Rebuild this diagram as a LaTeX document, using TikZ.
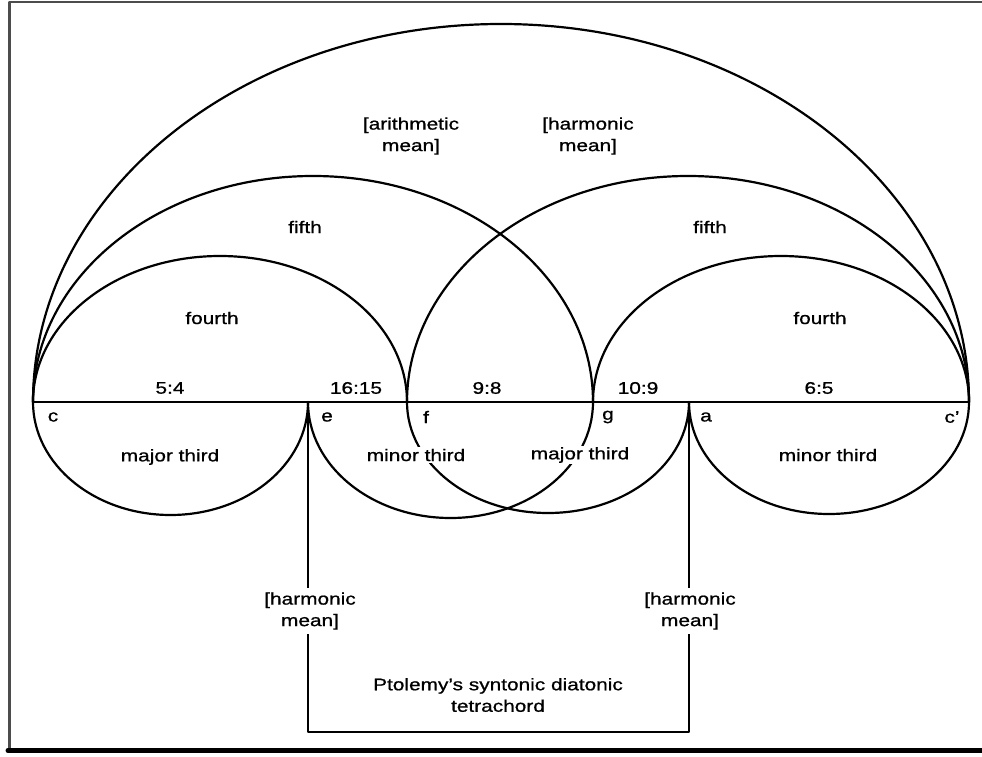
\documentclass[tikz,border=0pt]{standalone}
\usepackage{fontspec}
\setmainfont[FakeStretch=1.24,FakeBold=0.9]{Liberation Sans}
\begin{document}
\begin{tikzpicture}[x=1pt,y=1pt,line cap=round,line join=round,
  curve/.style={line width=2.2pt},
  frameline/.style={draw=black!70,line width=2.5pt},
  lbl/.style={fill=white,inner sep=1.5pt,align=center,font=\fontsize{16.8}{21.5}\selectfont},
  gaplbl/.style={lbl,inner sep=4pt}]
\useasboundingbox (0,0) rectangle (982,756);
% frame
\draw[frameline] (9.5,5) -- (9.5,754) -- (982,754);
\draw[line width=5pt] (8,5.5) -- (982,5.5);
% points on the string
\coordinate (c)  at (33,354);
\coordinate (e)  at (308,354);
\coordinate (f)  at (407,354);
\coordinate (g)  at (593,354);
\coordinate (a)  at (689,354);
\coordinate (cp) at (969,354);
\coordinate (bot) at (500,24);
% baseline
\draw[line width=2.5pt] (c) -- (cp);
% upper arcs
\draw[curve] (c) arc[start angle=180,end angle=0,x radius=468,y radius=378];
\draw[curve] (c) arc[start angle=180,end angle=0,x radius=280,y radius=226];
\draw[curve] (f) arc[start angle=180,end angle=0,x radius=281,y radius=226];
\draw[curve] (c) arc[start angle=180,end angle=0,x radius=187,y radius=146];
\draw[curve] (g) arc[start angle=180,end angle=0,x radius=188,y radius=146];
% lower arcs
\draw[curve] (c) arc[start angle=180,end angle=360,x radius=137.5,y radius=113];
\draw[curve] (e) arc[start angle=180,end angle=360,x radius=142.5,y radius=116];
\draw[curve] (f) arc[start angle=180,end angle=360,x radius=141,y radius=111];
\draw[curve] (a) arc[start angle=180,end angle=360,x radius=140,y radius=112];
% bracket
\draw[line width=1.8pt] (e) -- (e |- bot) -- (a |- bot) -- (a);
% ratio labels
\node[lbl] (r1) at (170,368) {5:4};
\node[lbl] (r2) at (356,368) {16:15};
\node[lbl] (r3) at (487,368) {9:8};
\node[lbl] (r4) at (638,368) {10:9};
\node[lbl] (r5) at (819,368) {6:5};
% note labels
\node[lbl] (nc) at (53,339) {c};
\node[lbl] (ne) at (327,339) {e};
\node[lbl] (nf) at (426,339) {f};
\node[lbl] (ng) at (608,339) {g};
\node[lbl] (na) at (706,339) {a};
\node[lbl] (ncp) at (952,339) {c’};
% thirds
\node[lbl] (t1) at (170,299) {major third};
\node[lbl] (t2) at (416,301) {minor third};
\node[lbl] (t3) at (580,301) {major third};
\node[lbl] (t4) at (828,301) {minor third};
% fourths, fifths
\node[lbl] (q1) at (212,438) {fourth};
\node[lbl] (q2) at (820,438) {fourth};
\node[lbl] (p1) at (305,529) {fifth};
\node[lbl] (p2) at (710,529) {fifth};
% means
\node[lbl] (m1) at (411,620) {[arithmetic\\mean]};
\node[lbl] (m2) at (588,620) {[harmonic\\mean]};
\node[gaplbl] (m3) at (310,145) {[harmonic\\mean]};
\node[gaplbl] (m4) at (690,145) {[harmonic\\mean]};
\node[lbl] (pt) at (498,61) {Ptolemy's syntonic diatonic\\tetrachord};
\end{tikzpicture}
\end{document}
